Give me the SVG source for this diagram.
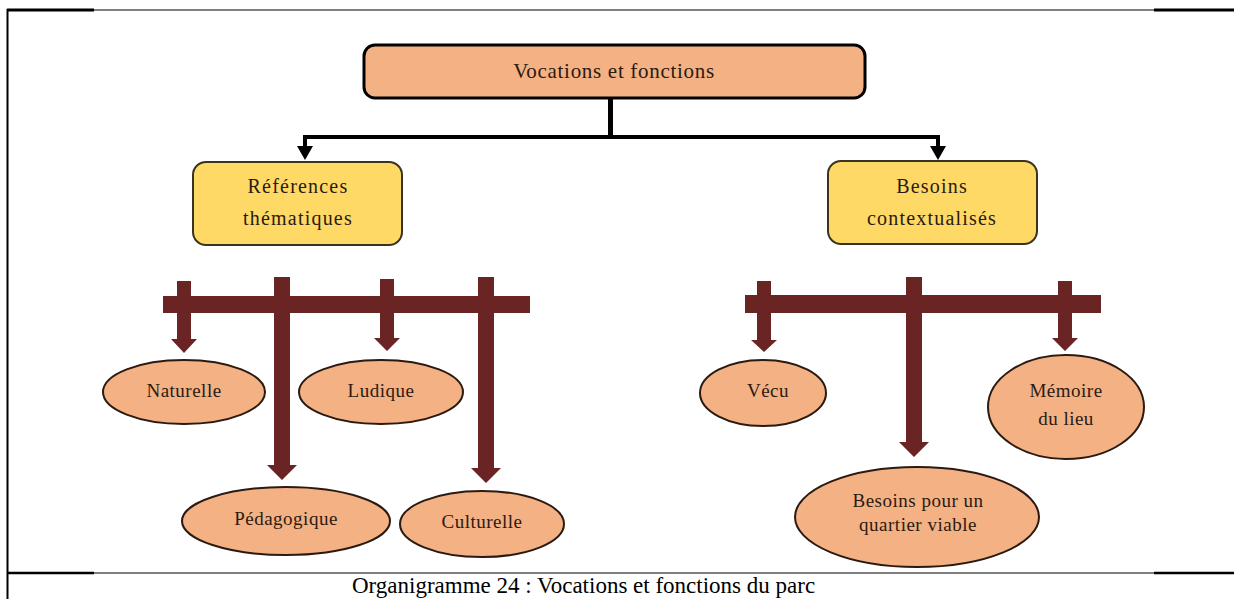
<svg xmlns="http://www.w3.org/2000/svg" width="1234" height="599" viewBox="0 0 1234 599">
<style>
.t{font-family:"Liberation Serif","Times New Roman",serif;fill:#2b1a12;text-anchor:middle}
.el{fill:#f4b183;stroke:#2a1a12;stroke-width:2}
.yb{fill:#ffd966;stroke:#3a3320;stroke-width:2}
.br{fill:#6b2424}
.bk{fill:#000}
.fr{stroke:#000;fill:none}
</style>
<rect width="1234" height="599" fill="#fff"/>
<g id="frame">
<line class="fr" x1="7" y1="10" x2="1234" y2="10" stroke-width="1.2"/>
<line class="fr" x1="7" y1="10" x2="94" y2="10" stroke-width="3"/>
<line class="fr" x1="1154" y1="10" x2="1234" y2="10" stroke-width="3"/>
<line class="fr" x1="7.5" y1="9" x2="7.5" y2="599" stroke-width="2"/>
<line class="fr" x1="7" y1="573" x2="1234" y2="573" stroke-width="1.2"/>
<line class="fr" x1="7" y1="573" x2="94" y2="573" stroke-width="2.5"/>
<line class="fr" x1="1154" y1="573" x2="1234" y2="573" stroke-width="2.5"/>
</g>
<g id="connectors">
<rect class="bk" x="608" y="98" width="5" height="41"/>
<rect class="bk" x="303" y="135" width="637" height="4"/>
<path class="bk" d="M303,135 H307 V146 H313 L305,160 L297,146 H303 Z"/>
<path class="bk" d="M936,135 H940 V146 H946 L938,160 L930,146 H936 Z"/>
<rect class="br" x="163" y="296" width="367" height="17"/>
<path class="br" d="M177,281 H191 V339 H197 L184,353 L171,339 H177 Z"/>
<path class="br" d="M274,277 H290 V465 H297 L282,480 L267,465 H274 Z"/>
<path class="br" d="M380,279 H394 V338 H400 L387,351 L374,338 H380 Z"/>
<path class="br" d="M478,277 H494 V468 H501 L486,483 L471,468 H478 Z"/>
<rect class="br" x="745" y="295" width="356" height="18"/>
<path class="br" d="M757,281 H771 V340 H777 L764,352 L751,340 H757 Z"/>
<path class="br" d="M906,277 H922 V442 H929 L914,457 L899,442 H906 Z"/>
<path class="br" d="M1058,281 H1072 V338 H1078 L1065,351 L1052,338 H1058 Z"/>
</g>
<g id="n-vocations">
<rect x="364" y="45" width="501" height="53" rx="11" fill="#f4b183" stroke="#000" stroke-width="3"/>
<text class="t" x="614" y="78" font-size="21" letter-spacing="0.7">Vocations et fonctions</text>
</g>
<g id="n-references">
<rect class="yb" x="193" y="162" width="209" height="83" rx="13"/>
<text class="t" x="298" y="193" font-size="20" letter-spacing="1.2">Références</text>
<text class="t" x="298" y="225" font-size="20" letter-spacing="1.2">thématiques</text>
</g>
<g id="n-besoins">
<rect class="yb" x="828" y="161" width="209" height="83" rx="13"/>
<text class="t" x="932" y="193" font-size="20" letter-spacing="1.2">Besoins</text>
<text class="t" x="932" y="225" font-size="20" letter-spacing="1.2">contextualisés</text>
</g>
<g id="n-naturelle">
<ellipse class="el" cx="184" cy="392" rx="81" ry="32"/>
<text class="t" x="184" y="397" font-size="19" letter-spacing="0.5">Naturelle</text>
</g>
<g id="n-ludique">
<ellipse class="el" cx="381" cy="392" rx="82" ry="32"/>
<text class="t" x="381" y="397" font-size="19" letter-spacing="0.5">Ludique</text>
</g>
<g id="n-pedagogique">
<ellipse class="el" cx="286" cy="521" rx="104" ry="34"/>
<text class="t" x="286" y="525" font-size="19" letter-spacing="0.5">Pédagogique</text>
</g>
<g id="n-culturelle">
<ellipse class="el" cx="482" cy="524" rx="82" ry="33"/>
<text class="t" x="482" y="528" font-size="19" letter-spacing="0.5">Culturelle</text>
</g>
<g id="n-vecu">
<ellipse class="el" cx="763" cy="393" rx="63" ry="33"/>
<text class="t" x="768" y="397" font-size="19" letter-spacing="0.5">Vécu</text>
</g>
<g id="n-memoire">
<ellipse class="el" cx="1066" cy="407" rx="78" ry="52"/>
<text class="t" x="1066" y="397" font-size="19" letter-spacing="0.5">Mémoire</text>
<text class="t" x="1066" y="425" font-size="19" letter-spacing="0.5">du lieu</text>
</g>
<g id="n-quartier">
<ellipse class="el" cx="917" cy="517" rx="122" ry="50"/>
<text class="t" x="918" y="507" font-size="19" letter-spacing="0.5">Besoins pour un</text>
<text class="t" x="918" y="531" font-size="19" letter-spacing="0.5">quartier viable</text>
</g>
<text x="352" y="593" font-family="Liberation Serif, Times New Roman, serif" font-size="23" fill="#000">Organigramme 24 : Vocations et fonctions du parc</text>
</svg>
